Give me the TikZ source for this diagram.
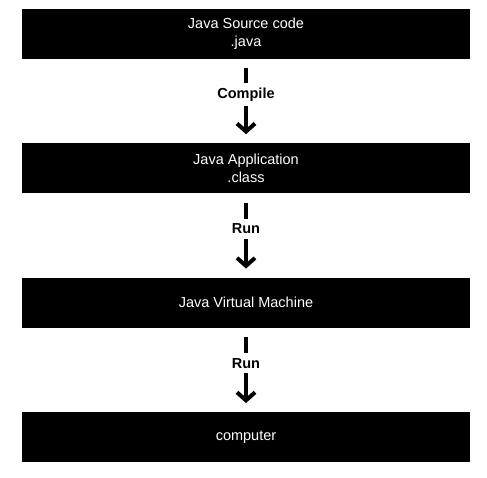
\documentclass[tikz,border=0pt]{standalone}
\usepackage{fontspec}
\setmainfont{Liberation Sans}
\usepackage{tikz}
\usetikzlibrary{arrows.meta, positioning}

\begin{document}
\begin{tikzpicture}[
    node distance=84pt,
    stage/.style={rectangle, fill=black, text=white, minimum width=448pt, minimum height=50pt, align=center, font=\fontsize{14.5}{18}\selectfont},
    flow/.style={draw, line width=4pt, -{Straight Barb[length=8pt, width=18pt]}, shorten <=9pt, shorten >=9pt},
    steplabel/.style={fill=white, inner sep=5pt, font=\fontsize{14.5}{17}\selectfont\bfseries}
]
\useasboundingbox (0,0) rectangle (487pt,-477pt);

\node [stage] (source) at (246pt,-34pt) {Java Source code \\ .java};
\node [stage, below=of source] (app) {Java Application \\ .class};
\node [stage, below=of app] (jvm) {Java Virtual Machine};
\node [stage, below=of jvm] (computer) {computer};

\path [flow] (source) -- node[steplabel, pos=0.42] {Compile} (app);
\path [flow] (app) -- node[steplabel, pos=0.42] {Run} (jvm);
\path [flow] (jvm) -- node[steplabel, pos=0.42] {Run} (computer);

\end{tikzpicture}
\end{document}
